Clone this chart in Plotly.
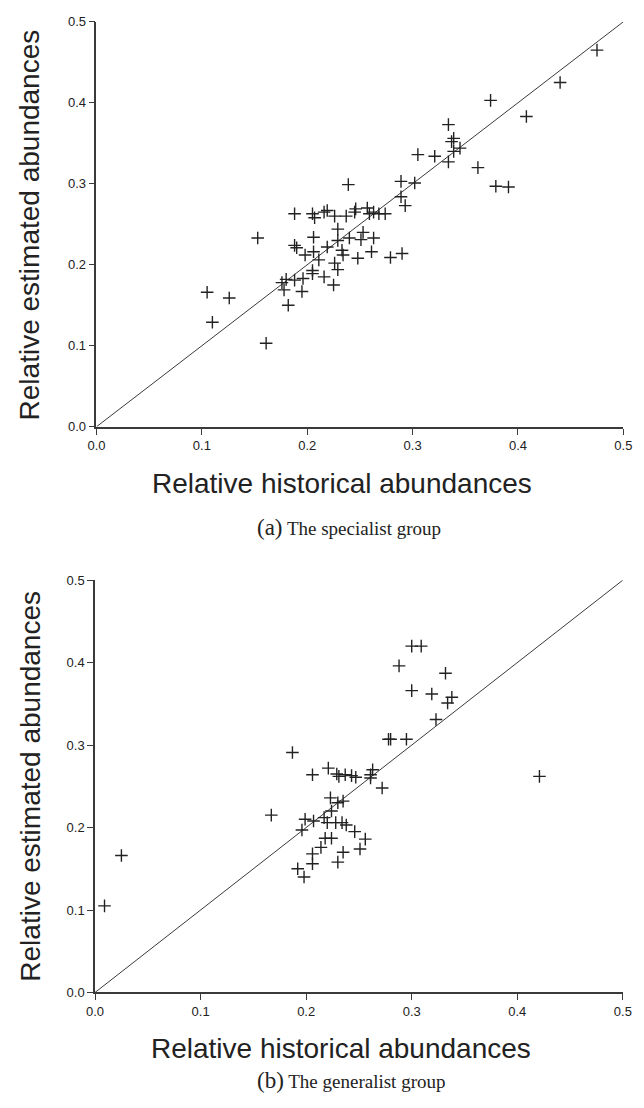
import plotly.graph_objects as go

# ---- data: specialist group (a) ----
spec_hist = [0.475, 0.440, 0.374, 0.408, 0.334, 0.339, 0.337, 0.345, 0.339, 0.305,
             0.321, 0.334, 0.362, 0.289, 0.302, 0.239, 0.379, 0.391, 0.289, 0.293,
             0.219, 0.226, 0.237, 0.245, 0.246, 0.257, 0.259, 0.268, 0.274, 0.263,
             0.188, 0.205, 0.207, 0.229, 0.219, 0.229, 0.240, 0.253, 0.251, 0.263,
             0.233, 0.234, 0.248, 0.261, 0.279, 0.290, 0.226, 0.229, 0.216, 0.225,
             0.153, 0.105, 0.126, 0.110, 0.161, 0.176, 0.180, 0.178, 0.182, 0.188,
             0.188, 0.190, 0.196, 0.195, 0.198, 0.206, 0.206, 0.205, 0.205, 0.211,
             0.216]
spec_est = [0.465, 0.425, 0.403, 0.383, 0.373, 0.356, 0.352, 0.344, 0.340, 0.336,
            0.334, 0.327, 0.320, 0.303, 0.301, 0.299, 0.297, 0.296, 0.284, 0.273,
            0.267, 0.260, 0.260, 0.265, 0.269, 0.270, 0.263, 0.263, 0.263, 0.265,
            0.263, 0.263, 0.258, 0.244, 0.222, 0.230, 0.233, 0.240, 0.231, 0.233,
            0.218, 0.212, 0.208, 0.216, 0.209, 0.214, 0.202, 0.194, 0.185, 0.175,
            0.233, 0.166, 0.159, 0.129, 0.103, 0.178, 0.182, 0.169, 0.150, 0.181,
            0.224, 0.221, 0.183, 0.167, 0.212, 0.234, 0.216, 0.193, 0.189, 0.206,
            0.265]

# ---- data: generalist group (b) ----
gen_hist = [0.009, 0.025, 0.167, 0.187, 0.206, 0.199, 0.207, 0.196, 0.206, 0.206,
            0.192, 0.198, 0.214, 0.218, 0.224, 0.235, 0.230, 0.217, 0.220, 0.228,
            0.234, 0.238, 0.246, 0.256, 0.251, 0.223, 0.230, 0.235, 0.224, 0.221,
            0.229, 0.237, 0.243, 0.231, 0.247, 0.261, 0.263, 0.261, 0.272, 0.278,
            0.280, 0.295, 0.300, 0.309, 0.288, 0.332, 0.300, 0.319, 0.338, 0.334,
            0.323, 0.421]
gen_est = [0.105, 0.166, 0.215, 0.291, 0.264, 0.210, 0.208, 0.197, 0.168, 0.156,
           0.150, 0.140, 0.176, 0.187, 0.187, 0.170, 0.158, 0.212, 0.206, 0.206,
           0.206, 0.203, 0.195, 0.186, 0.174, 0.236, 0.230, 0.232, 0.220, 0.272,
           0.265, 0.264, 0.263, 0.262, 0.261, 0.260, 0.270, 0.264, 0.248, 0.307,
           0.307, 0.307, 0.420, 0.420, 0.396, 0.387, 0.366, 0.362, 0.358, 0.351,
           0.331, 0.262]

line_x = [0.0, 0.5]
line_y = [0.0, 0.5]
tick_vals = [0.0, 0.1, 0.2, 0.3, 0.4, 0.5]
tick_text = ["0.0", "0.1", "0.2", "0.3", "0.4", "0.5"]

x_title = "Relative historical abundances"
y_title = "Relative estimated abundances"
cap_a = ("(a)", "The specialist group")
cap_b = ("(b)", "The generalist group")

INK = "#222222"
AXC = "#3a3a3a"
W, H = 644, 1108

fig = go.Figure()
marker = dict(symbol="cross-thin-open", size=9, line=dict(color=INK, width=1.4), color=INK)

fig.add_trace(go.Scatter(x=line_x, y=line_y, mode="lines", line=dict(color=AXC, width=1),
                         xaxis="x", yaxis="y", showlegend=False, hoverinfo="skip"))
fig.add_trace(go.Scatter(x=spec_hist, y=spec_est, mode="markers", marker=marker,
                         xaxis="x", yaxis="y", showlegend=False))
fig.add_trace(go.Scatter(x=line_x, y=line_y, mode="lines", line=dict(color=AXC, width=1),
                         xaxis="x2", yaxis="y2", showlegend=False, hoverinfo="skip"))
fig.add_trace(go.Scatter(x=gen_hist, y=gen_est, mode="markers", marker=marker,
                         xaxis="x2", yaxis="y2", showlegend=False))

axis_common = dict(range=[0, 0.5], tickvals=tick_vals, ticktext=tick_text,
                   showgrid=False, zeroline=False, showline=True, linecolor=AXC,
                   linewidth=1.6, ticks="outside", ticklen=6, tickwidth=1.4,
                   tickcolor=AXC, tickfont=dict(family="Liberation Sans", size=13, color=INK))

def px_x(p):
    return p / W

def px_y(p):
    return (H - p) / H

fig.update_layout(
    width=W, height=H, margin=dict(l=0, r=0, t=0, b=0),
    plot_bgcolor="white", paper_bgcolor="white",
    xaxis=dict(domain=[px_x(90), px_x(632)], anchor="y", **axis_common),
    yaxis=dict(domain=[px_y(425.5), px_y(15)], anchor="x", **axis_common),
    xaxis2=dict(domain=[px_x(88.5), px_x(631.5)], anchor="y2", **axis_common),
    yaxis2=dict(domain=[px_y(999), px_y(581)], anchor="x2", **axis_common),
)

title_font = dict(family="Liberation Sans", size=28, color=INK)
cap_font = dict(family="Liberation Serif", size=19, color=INK)

def caption(c):
    return "<span style='font-size:23px'>" + c[0] + "</span> " + c[1]

annots = [
    dict(text=x_title, x=px_x(343), y=px_y(483), font=title_font),
    dict(text=caption(cap_a), x=px_x(350), y=px_y(528), font=cap_font),
    dict(text=y_title, x=px_x(21), y=px_y(221), font=title_font, textangle=-90),
    dict(text=x_title, x=px_x(341.5), y=px_y(1056), font=title_font),
    dict(text=caption(cap_b), x=px_x(352), y=px_y(1088), font=cap_font),
    dict(text=y_title, x=px_x(22), y=px_y(790), font=title_font, textangle=-90),
]
for a in annots:
    fig.add_annotation(xref="paper", yref="paper", showarrow=False,
                       xanchor="center", yanchor="middle", **a)

fig.write_html("out.html")
